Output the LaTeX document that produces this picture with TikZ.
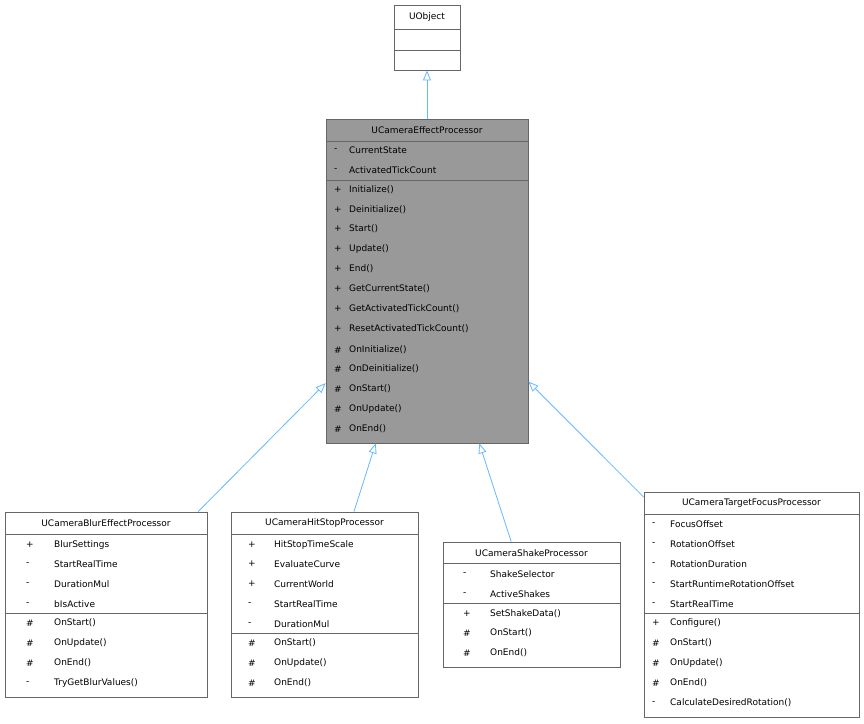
\documentclass[tikz,border=0pt]{standalone}
\usepackage{fontspec}
\setmainfont{DejaVu Sans}
\usetikzlibrary{arrows.meta}
\definecolor{edge}{HTML}{63B8FF}
\definecolor{bord}{HTML}{666666}
\begin{document}
\begin{tikzpicture}[x=1pt,y=-1pt,
  box/.style={draw=bord,fill=white,inner sep=0,line width=0.8pt},
  gbox/.style={box,fill=black!40},
  sep/.style={draw=bord,line width=0.8pt},
  txt/.style={anchor=west,inner sep=0,font=\fontsize{9}{10}\selectfont},
  ttl/.style={inner sep=0,font=\fontsize{9}{10}\selectfont},
  inh/.style={draw=edge,line width=0.8pt,-{Triangle[open,length=10pt,width=8pt,fill=white]}}]
\useasboundingbox (0,0) rectangle (864,723);
\newcommand\ubox[6]{\node[#6,minimum width=#4-#2,minimum height=#5-#3] (#1) at ({(#2+#4)/2},{(#3+#5)/2}) {};}
\newcommand\hl[3]{\draw[sep] (#1,#3) -- (#2,#3);}
\newcommand\mem[5]{\node[txt] at (#1,#3) {#4}; \node[txt] at (#2,#3) {#5};}
% UObject
\ubox{uobj}{394}{5}{460}{70}{box}
\hl{394}{460}{29}\hl{394}{460}{50}
\node[ttl] at (427,17) {UObject};
% Effect
\ubox{eff}{326}{119}{528}{443}{gbox}
\hl{326}{528}{141}\hl{326}{528}{180}
\node[ttl] at (427,130) {UCameraEffectProcessor};
\foreach \s/\t/\y in {-/CurrentState/150,-/ActivatedTickCount/170,
 +/Initialize()/190,+/Deinitialize()/210,+/Start()/229,+/Update()/249,+/End()/269,
 +/GetCurrentState()/289,+/GetActivatedTickCount()/309,+/ResetActivatedTickCount()/329,
 \#/OnInitialize()/350,\#/OnDeinitialize()/369,\#/OnStart()/389,\#/OnUpdate()/409,\#/OnEnd()/429}
 {\mem{334}{349}{\y}{\s}{\t}}
% Blur
\ubox{blur}{5}{512}{207}{697}{box}
\hl{5}{207}{534}\hl{5}{207}{613}
\node[ttl] at (106,523) {UCameraBlurEffectProcessor};
\foreach \s/\t/\y in {+/BlurSettings/545,-/StartRealTime/564,-/DurationMul/584,-/bIsActive/604,
 \#/OnStart()/623,\#/OnUpdate()/643,\#/OnEnd()/663,-/TryGetBlurValues()/683}
 {\mem{26}{54}{\y}{\s}{\t}}
% HitStop
\ubox{hit}{231}{512}{418}{697}{box}
\hl{231}{418}{534}\hl{231}{418}{633}
\node[ttl] at (324.5,523) {UCameraHitStopProcessor};
\foreach \s/\t/\y in {+/HitStopTimeScale/545,+/EvaluateCurve/564,+/CurrentWorld/584,-/StartRealTime/604,-/DurationMul/624,
 \#/OnStart()/643,\#/OnUpdate()/663,\#/OnEnd()/683}
 {\mem{248}{274}{\y}{\s}{\t}}
% Shake
\ubox{shake}{443}{542}{620}{667}{box}
\hl{443}{620}{563}\hl{443}{620}{603}
\node[ttl] at (531.5,553) {UCameraShakeProcessor};
\foreach \s/\t/\y in {-/ShakeSelector/574,-/ActiveShakes/594,
 +/SetShakeData()/614,\#/OnStart()/633,\#/OnEnd()/653}
 {\mem{463}{490}{\y}{\s}{\t}}
% Target
\ubox{tgt}{644}{492}{859}{717}{box}
\hl{644}{859}{514}\hl{644}{859}{613}
\node[ttl] at (751.5,503) {UCameraTargetFocusProcessor};
\foreach \s/\t/\y in {-/FocusOffset/524,-/RotationOffset/544,-/RotationDuration/564,-/StartRuntimeRotationOffset/584,-/StartRealTime/604,
 +/Configure()/623,\#/OnStart()/643,\#/OnUpdate()/663,\#/OnEnd()/683,-/CalculateDesiredRotation()/703}
 {\mem{652}{670}{\y}{\s}{\t}}
% edges
\draw[inh] (eff.north) -- (uobj.south);
\draw[inh] (blur) -- (eff);
\draw[inh] (hit) -- (eff);
\draw[inh] (shake) -- (eff);
\draw[inh] (tgt) -- (eff);
\end{tikzpicture}
\end{document}
